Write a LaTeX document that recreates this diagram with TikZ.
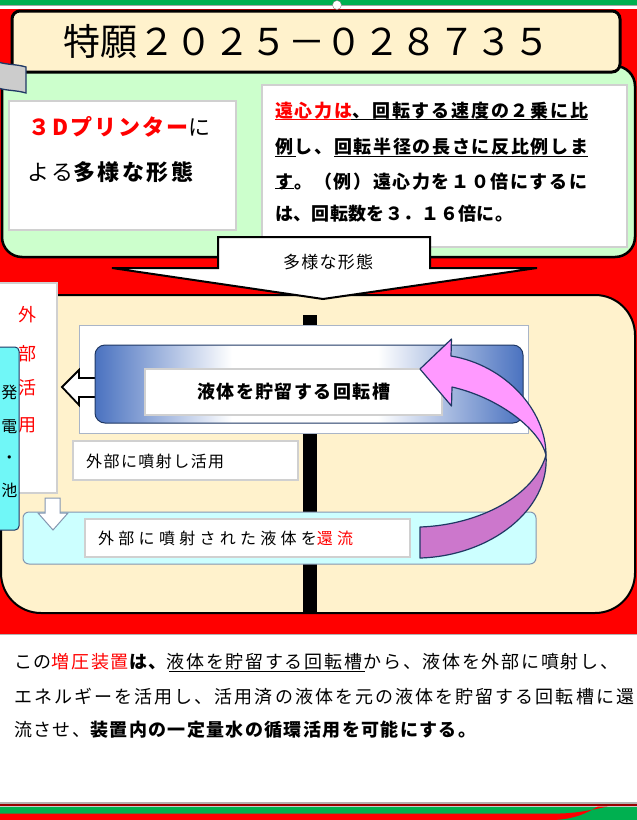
\documentclass[tikz,border=0pt]{standalone}
\usepackage{fontspec}
\setmainfont{Noto Sans CJK JP}
\definecolor{cream}{HTML}{FFF2CC}
\definecolor{lgreen}{HTML}{CCFFCC}
\definecolor{stripgreen}{HTML}{00B050}
\definecolor{tankblue}{HTML}{4A72C0}
\definecolor{navy}{HTML}{1F3864}
\definecolor{cyanbox}{HTML}{70F7F7}
\definecolor{lcyan}{HTML}{CCFFFF}
\definecolor{pinkA}{HTML}{FF99FF}
\definecolor{pinkB}{HTML}{CC77CC}
\definecolor{edgegray}{HTML}{D0D0D0}
\definecolor{slate}{HTML}{8496B0}
\pgfdeclarehorizontalshading{tank}{100bp}{color(0bp)=(tankblue); color(25bp)=(tankblue); color(41bp)=(white); color(58bp)=(white); color(75bp)=(tankblue); color(100bp)=(tankblue)}
\foreach \i in {0,...,12}{\foreach \j in {0,...,12}{\global\XeTeXinterchartoks\i\space\j={\hskip0pt plus 1fil}}}
\newcommand\jl[2]{\hbox to #1pt{\XeTeXinterchartokenstate=1 #2}}
\tikzset{
  txt/.style={inner sep=0pt, anchor=west},
  wbox/.style={fill=white, draw=edgegray, line width=1.2pt, inner sep=0pt},
  vch/.style={inner sep=0pt, font=\fontsize{18}{18}\selectfont},
  uline/.style={line width=1.2pt},
}
\begin{document}
\begin{tikzpicture}[x=1pt,y=-1pt]
\useasboundingbox (0,0) rectangle (637,820);
\fill[white] (0,0) rectangle (637,820);
% top strip
\fill[stripgreen] (0,0) rectangle (637,4.5);
\draw[gray!70, line width=1.2pt] (0,5.8) -- (637,5.8);
% red background
\fill[red] (0,8.5) rectangle (637,634);
% green region
\draw[fill=lgreen, line width=2.5pt, rounded corners=20pt] (2,66) rectangle (635,257);
% title
\node[draw, line width=3pt, fill=cream, rounded corners=8pt, minimum width=608pt, minimum height=61pt, inner sep=0pt] (title) at (316,41.5) {};
\node[txt] (titletext) at (63,41) {\fontsize{37}{37}\selectfont\jl{487}{特願２０２５－０２８７３５}};
\node[circle, draw=gray, fill=white, minimum size=9pt, inner sep=0pt] (handle) at (337,5) {};
% flag
\draw[fill=gray!40, draw=navy, line width=1.3pt] (-2,62) .. controls (8,65) and (16,64) .. (26,67) -- (26,93) .. controls (16,90) and (8,91) .. (-2,88) -- cycle;
% left box
\node[wbox, minimum width=227pt, minimum height=129pt] (lbox) at (122.5,165.5) {};
\node[txt] (l1) at (28,127) {\fontsize{22}{22}\selectfont\jl{182}{\textcolor{red}{\bfseries ３Dプリンター}に}};
\node[txt] (l2) at (27,172) {\fontsize{22}{22}\selectfont\jl{166}{よる{\bfseries 多様な形態}}};
% right box
\node[wbox, minimum width=365pt, minimum height=162pt] (rbox) at (444.5,166) {};
\node[txt] (r1) at (275,111) {\fontsize{18}{18}\selectfont\bfseries\jl{313}{\textcolor{red}{遠心力は}、回転する速度の２乗に比}};
\node[txt] (r2) at (275,147) {\fontsize{18}{18}\selectfont\bfseries\jl{313}{例し、回転半径の長さに反比例しま}};
\node[txt] (r3) at (275,182) {\fontsize{18}{18}\selectfont\bfseries\jl{312}{す。（例）遠心力を１０倍にするに}};
\node[txt] (r4) at (275,214) {\fontsize{18}{18}\selectfont\bfseries\jl{238}{は、回転数を３．１６倍に。}};
\draw[uline, red] (275,119.5) -- (351,119.5);
\draw[uline] (351,119.5) -- (588,119.5);
\draw[uline] (275,156.5) -- (296,156.5);
\draw[uline] (334,156.5) -- (588,156.5);
\draw[uline] (275,188.5) -- (294,188.5);
% cream region
\draw[fill=cream, line width=2pt, rounded corners=40pt] (1,295) rectangle (635,613);
% big arrow
\draw[fill=white, line width=2pt] (218,237) -- (430,237) -- (430,268) -- (537,268) -- (323,299) -- (112,268) -- (218,268) -- cycle;
\node[txt] (formtxt) at (283,262) {\fontsize{17}{17}\selectfont\jl{90}{多様な形態}};
% pole
\fill (303,315) rectangle (317,612);
% tank group
\node[draw=slate!70, fill=white, line width=1pt, minimum width=449pt, minimum height=108pt, inner sep=0pt] (outer) at (303.5,379) {};
\draw[fill=white, line width=1.8pt] (62,387) -- (79,370) -- (79,378) -- (97,378) -- (97,397) -- (79,397) -- (79,405) -- cycle;
\node[shading=tank, draw=navy, line width=1pt, rounded corners=10pt, minimum width=428pt, minimum height=78pt, inner sep=0pt] (tank) at (309,384) {};
\node[wbox, minimum width=297pt, minimum height=46pt] (tankin) at (293.5,392) {};
\node[txt] (tanktxt) at (197,392) {\fontsize{18}{18}\selectfont\bfseries\jl{193}{液体を貯留する回転槽}};
% use box
\node[wbox, minimum width=225pt, minimum height=39pt] (usebox) at (185.5,460.5) {};
\node[txt] (usetxt) at (86,461) {\fontsize{16}{16}\selectfont\jl{138}{外部に噴射し活用}};
% vertical external box
\node[wbox, minimum width=60pt, minimum height=210pt] (extbox) at (27,388) {};
\node[vch, text=red] (e1) at (27,315) {外};
\node[vch, text=red] (e2) at (27,354) {部};
\node[vch, text=red] (e3) at (27,388) {活};
\node[vch, text=red] (e4) at (27,425) {用};
% cyan box
\node[draw=navy, fill=cyanbox, rounded corners=4pt, minimum width=24pt, minimum height=183pt, line width=1pt, inner sep=0pt] (cyanb) at (7,438.5) {};
\node[vch, font=\fontsize{16}{16}\selectfont] (c1) at (9.5,392) {発};
\node[vch, font=\fontsize{16}{16}\selectfont] (c2) at (9.5,427) {電};
\node[vch, font=\fontsize{16}{16}\selectfont] (c3) at (9.5,460) {・};
\node[vch, font=\fontsize{16}{16}\selectfont] (c4) at (9.5,490) {池};
% return box
\node[draw=slate, fill=lcyan, rounded corners=6pt, minimum width=513pt, minimum height=52pt, line width=1pt, inner sep=0pt] (retbox) at (279.5,538) {};
\draw[fill=white, draw=slate, line width=1pt] (45,498) -- (60,498) -- (60,513) -- (68,513) -- (53,530) -- (38,513) -- (45,513) -- cycle;
\node[wbox, minimum width=325pt, minimum height=38pt] (retin) at (247.5,538) {};
\node[txt] (rettxt) at (98,538) {\fontsize{16}{16}\selectfont\jl{255}{外部に噴射された液体を\textcolor{red}{還流}}};
% pink return arrow
\draw[fill=pinkA, draw=navy, line width=1.2pt, line join=round] (420,369) -- (451.5,339) -- (451,356) .. controls (505,365) and (546,410) .. (546,455) .. controls (540,430) and (500,398) .. (452,387) -- (451.5,406) -- cycle;
\draw[fill=pinkB, draw=navy, line width=1.2pt, line join=round] (546,455) .. controls (550,510) and (490,556) .. (420,558) -- (420,527) .. controls (480,525) and (535,495) .. (546,455) -- cycle;
% bottom text area
\fill[white] (0,634) rectangle (637,802);
\draw[gray!60, line width=1pt] (0,634) -- (637,634);
\node[txt] (b1) at (14,662) {\fontsize{18}{18}\selectfont\jl{604}{この\textcolor{red}{増圧装置}{\bfseries は、}液体を貯留する回転槽から、液体を外部に噴射し、}};
\draw[uline] (169,671.5) -- (365,671.5);
\node[txt] (b2) at (14,697) {\fontsize{18}{18}\selectfont\jl{620}{エネルギーを活用し、活用済の液体を元の液体を貯留する回転槽に還}};
\node[txt] (b3) at (14,730) {\fontsize{18}{18}\selectfont\jl{462}{流させ、{\bfseries 装置内の一定量水の循環活用を可能にする。}}};
% bottom stripes
\fill[gray!60] (0,802) rectangle (637,804);
\fill[red!60!black] (0,804) rectangle (637,805.5);
\fill[gray!40] (0,805.5) rectangle (637,807);
\fill[stripgreen] (0,807) rectangle (637,820);
\fill[red] (0,813.5) -- (560,813.5) .. controls (580,813) and (595,809) .. (608,806.5) -- (598,806.5) .. controls (588,812) and (575,820) .. (550,820) -- (0,820) -- cycle;
\end{tikzpicture}
\end{document}
